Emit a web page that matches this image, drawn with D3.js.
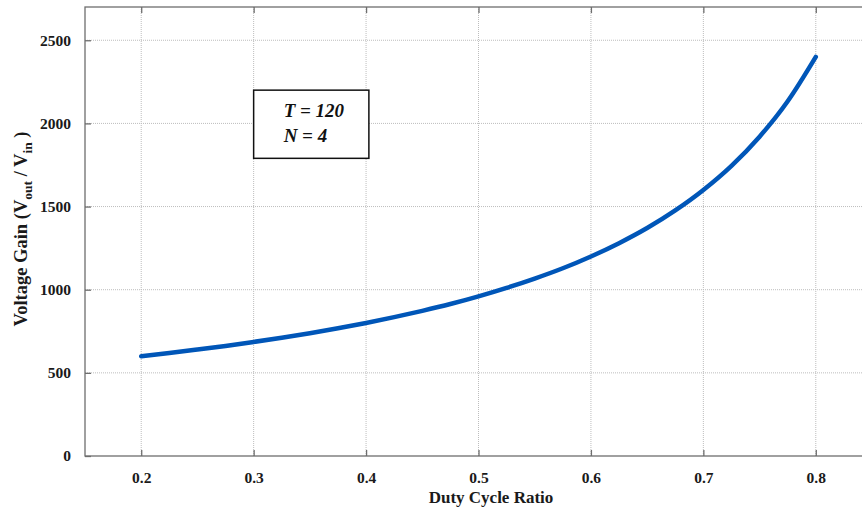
<!DOCTYPE html>
<html><head><meta charset="utf-8">
<script src="https://cdn.jsdelivr.net/npm/d3@7"></script>
<style>body{margin:0;background:#fff}svg{display:block}text{font-family:"Liberation Serif","Times New Roman",serif;font-weight:bold}</style>
</head><body>
<script>
const duty = [0.2,0.225,0.25,0.275,0.3,0.325,0.35,0.375,0.4,0.425,0.45,0.475,0.5,0.525,0.55,0.575,0.6,0.625,0.65,0.675,0.7,0.725,0.75,0.775,0.8];
const gain = [600,619,640,662,686,711,738,768,800,835,873,914,960,1011,1067,1129,1200,1280,1371,1477,1600,1745,1920,2133,2400];
const xTicks = [0.2,0.3,0.4,0.5,0.6,0.7,0.8];
const yTicks = [0,500,1000,1500,2000,2500];
const annotation = ["T = 120","N = 4"];

const W=862,H=511;
const m={l:85,t:7,r:872,b:456};
const svg=d3.select("body").append("svg").attr("width",W).attr("height",H);
const x=d3.scaleLinear().domain([0.15,0.85]).range([m.l,m.r]);
const y=d3.scaleLinear().domain([0,2700]).range([m.b,m.t]);

// grid
svg.append("g").selectAll("line").data(xTicks).join("line")
 .attr("x1",d=>x(d)).attr("x2",d=>x(d)).attr("y1",m.t).attr("y2",m.b)
 .attr("stroke","#bdbdbd").attr("stroke-width",1).attr("stroke-dasharray","1,1");
svg.append("g").selectAll("line").data(yTicks.filter(d=>d>0)).join("line")
 .attr("x1",m.l).attr("x2",m.r).attr("y1",d=>y(d)).attr("y2",d=>y(d))
 .attr("stroke","#bdbdbd").attr("stroke-width",1).attr("stroke-dasharray","1,1");

// frame
svg.append("rect").attr("x",m.l).attr("y",m.t).attr("width",m.r-m.l).attr("height",m.b-m.t)
 .attr("fill","none").attr("stroke","#6e6e6e").attr("stroke-width",1.3);

// axes
const xa=svg.append("g").attr("transform",`translate(0,${m.b})`)
 .call(d3.axisBottom(x).tickValues(xTicks).tickSizeInner(-6).tickSizeOuter(0).tickPadding(16).tickFormat(d3.format(".1f")));
const xt=svg.append("g").attr("transform",`translate(0,${m.t})`)
 .call(d3.axisTop(x).tickValues(xTicks).tickSizeInner(-6).tickSizeOuter(0).tickFormat(""));
const ya=svg.append("g").attr("transform",`translate(${m.l},0)`)
 .call(d3.axisLeft(y).tickValues(yTicks).tickSizeInner(-6).tickSizeOuter(0).tickPadding(14).tickFormat(d3.format("d")));
[xa,xt,ya].forEach(g=>{g.select(".domain").remove();g.selectAll(".tick line").attr("stroke","#6e6e6e").attr("stroke-width",1.3);
 g.selectAll("text").attr("fill","#1a1a1a").style("font-size","15.5px").style("font-family","Liberation Serif").style("font-weight","bold");});

// line
svg.append("path").datum(duty.map((d,i)=>[d,gain[i]]))
 .attr("d",d3.line().x(d=>x(d[0])).y(d=>y(d[1])).curve(d3.curveMonotoneX))
 .attr("fill","none").attr("stroke","#0056b8").attr("stroke-width",4.5).attr("stroke-linecap","round");

// labels
svg.append("text").attr("x",491).attr("y",503).attr("text-anchor","middle").attr("fill","#1a1a1a")
 .style("font-size","17px").text("Duty Cycle Ratio");
const yl=svg.append("text").attr("transform","translate(27,229) rotate(-90)").attr("text-anchor","middle").attr("fill","#1a1a1a").style("font-size","18.5px");
yl.append("tspan").text("Voltage Gain (V");
yl.append("tspan").attr("dy",5).style("font-size","13.5px").text("out");
yl.append("tspan").attr("dy",-5).text(" / V");
yl.append("tspan").attr("dy",5).style("font-size","13.5px").text("in");
yl.append("tspan").attr("dy",-5).text(" )");

// annotation box
svg.append("rect").attr("x",x(0.3)).attr("y",y(2200)).attr("width",x(0.4025)-x(0.3)).attr("height",y(1790)-y(2200))
 .attr("fill","#fff").attr("stroke","#111").attr("stroke-width",1.5);
svg.selectAll(".ann").data(annotation).join("text").attr("class","ann")
 .attr("x",x(0.3)+30).attr("y",(d,i)=>y(2200)+27+i*25).attr("fill","#111")
 .style("font-size","19px").style("font-style","italic").text(d=>d);
</script>
</body></html>
